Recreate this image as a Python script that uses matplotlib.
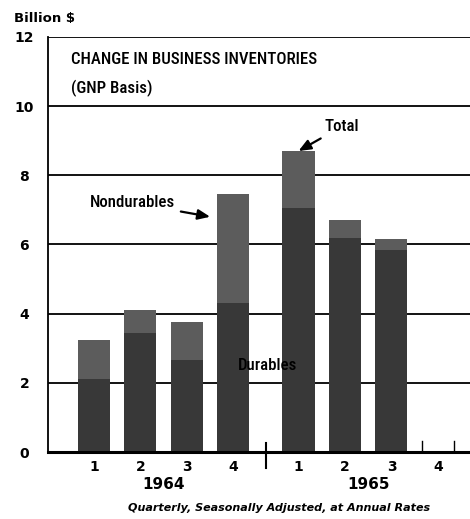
import matplotlib
matplotlib.use("Agg")
import matplotlib.pyplot as plt

quarters = ["1", "2", "3", "4", "1", "2", "3", "4"]
positions = [0, 1, 2, 3, 4.4, 5.4, 6.4, 7.4]
durables = [2.1, 3.45, 2.65, 4.3, 7.05, 6.2, 5.85]
totals = [3.25, 4.1, 3.75, 7.45, 8.7, 6.7, 6.15]
nondurables = [t - d for t, d in zip(totals, durables)]
years = ["1964", "1965"]
year_pos = [1.5, 5.9]
yticks = [0, 2, 4, 6, 8, 10, 12]

narrow = ["Roboto Condensed", "DejaVu Sans"]
bold = ["DejaVu Sans"]

fig = plt.figure(figsize=(4.7, 5.19), dpi=100)
ax = fig.add_axes([0.102, 0.129, 0.898, 0.8])
ax.set_xlim(-0.99, 8.09)
ax.set_ylim(0, 12)

bw = 0.69
n = len(durables)
ax.bar(positions[:n], durables, width=bw, color="#383838", zorder=2)
ax.bar(positions[:n], nondurables, bottom=durables, width=bw, color="#5c5c5c", zorder=2)

for y in yticks[1:]:
    ax.axhline(y, color="black", lw=1.3, zorder=1)

for s in ["top", "right"]:
    ax.spines[s].set_visible(False)
ax.spines["left"].set_linewidth(1.3)
ax.spines["bottom"].set_linewidth(2.2)
ax.spines["bottom"].set_zorder(3)

ax.set_yticks(yticks)
ax.set_yticklabels([str(v) for v in yticks], family=bold, fontweight="bold", fontsize=10, ha="center")
ax.tick_params(axis="y", length=0, pad=17)
ax.set_xticks(positions)
ax.set_xticklabels(quarters, family=bold, fontweight="bold", fontsize=10)
ax.tick_params(axis="x", length=0, pad=6)

# divider between years
ax.plot([3.7, 3.7], [0.25, -0.45], color="black", lw=1.5, clip_on=False, zorder=4)
# empty Q4 1965 placeholder ticks
for xx in [positions[7] - bw / 2, positions[7] + bw / 2]:
    ax.plot([xx, xx], [0, 0.33], color="black", lw=1.0, zorder=4)

for yr, xp in zip(years, year_pos):
    ax.text(xp, -0.95, yr, family=bold, ha="center", va="center", fontsize=11, fontweight="bold")
fig.text(0.594, 0.021, "Quarterly, Seasonally Adjusted, at Annual Rates", family=bold,
         ha="center", va="center", fontsize=8, fontweight="bold", style="italic")

fig.text(0.03, 0.965, "Billion $", family=bold, ha="left", va="center", fontsize=9.5, fontweight="bold")

tw = "medium"
ax.text(-0.5, 11.35, "CHANGE IN BUSINESS INVENTORIES", family=narrow, fontsize=12.2,
        fontweight=tw, ha="left", va="center")
ax.text(-0.5, 10.5, "(GNP Basis)", family=narrow, fontsize=12.2, fontweight=tw,
        ha="left", va="center")

ax.annotate("Nondurables", xy=(2.5, 6.8), xytext=(1.75, 7.2), family=narrow, fontsize=12.2,
            fontweight=tw, ha="right", va="center",
            arrowprops=dict(arrowstyle="-|>,head_length=0.6,head_width=0.25", color="black", lw=1.6,
                            shrinkA=2, shrinkB=0))
ax.annotate("Total", xy=(4.4, 8.7), xytext=(4.95, 9.4), family=narrow, fontsize=12.2,
            fontweight=tw, ha="left", va="center",
            arrowprops=dict(arrowstyle="-|>,head_length=0.6,head_width=0.25", color="black", lw=1.6,
                            shrinkA=2, shrinkB=0))
ax.text(3.1, 2.5, "Durables", family=narrow, fontsize=12.2, fontweight=tw,
        ha="left", va="center", zorder=5)

fig.savefig("out.png", dpi=100)
